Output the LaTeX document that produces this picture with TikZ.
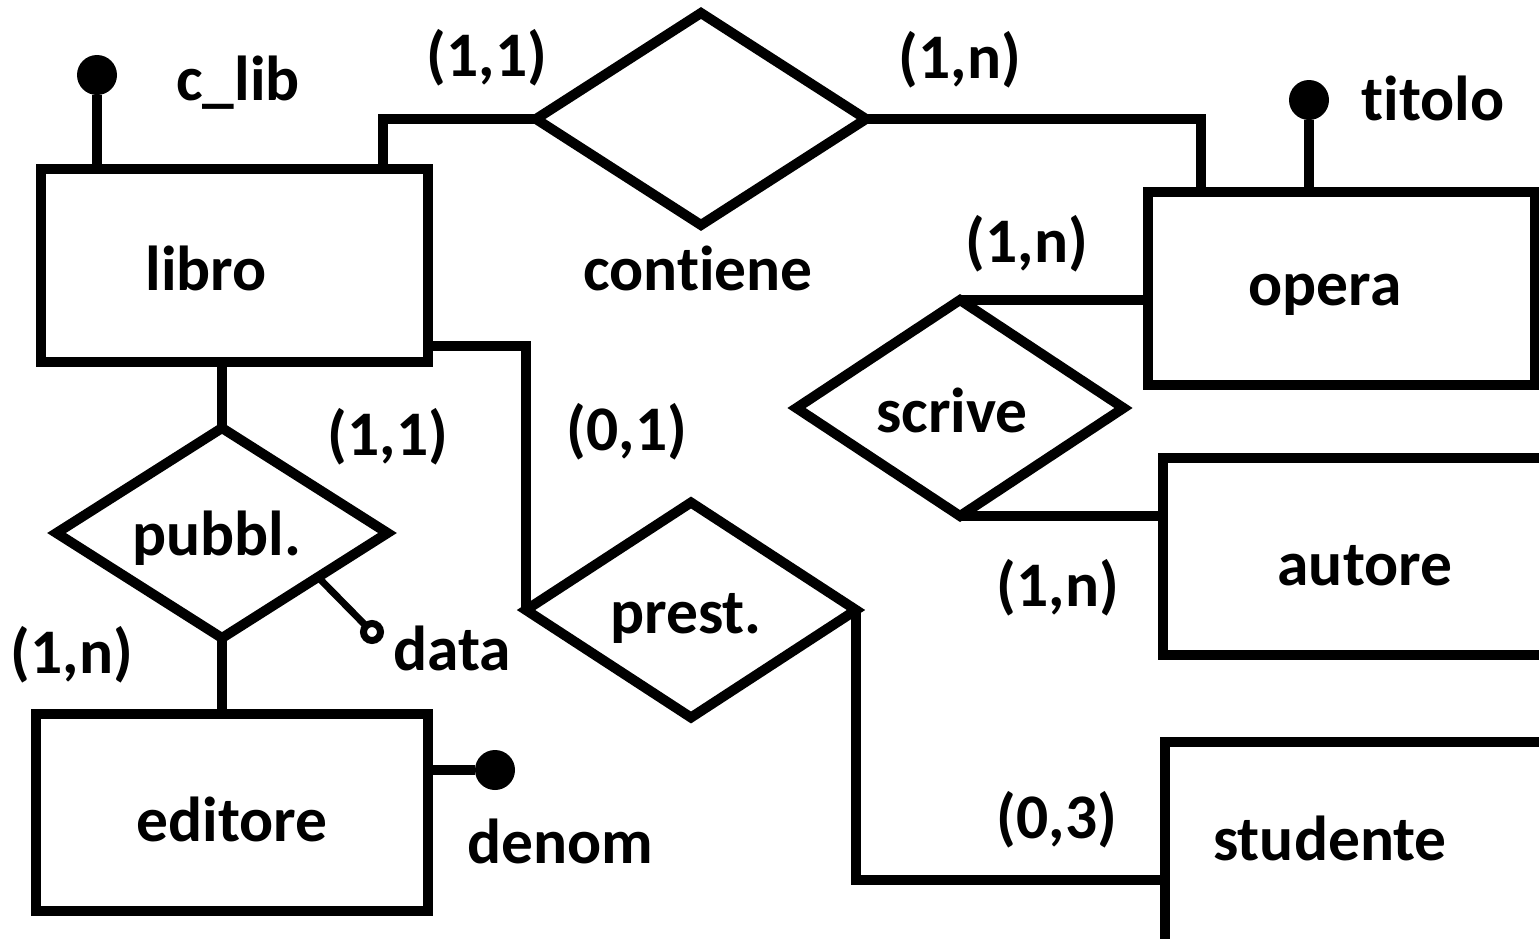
\documentclass[tikz,border=0pt]{standalone}
\usepackage{fontspec}
\setmainfont{Carlito}[Ligatures=NoCommon]
\usetikzlibrary{shapes.geometric,calc}

\begin{document}
\begin{tikzpicture}[x=1pt,y=-1pt]
        \tikzset{every node/.style={font=\fontsize{63.5}{70}\selectfont\bfseries,outer sep=0pt},
            entity/.style={draw,rectangle,line width=10pt,inner sep=0pt},
            relation/.style={draw,diamond,line width=10pt,inner sep=0pt},
            keyattr/.style={fill,circle,inner sep=0pt,minimum size=40pt},
            attr/.style={draw,circle,line width=7pt,inner sep=0pt,minimum size=17pt,fill=white},
            lbl/.style={anchor=base},
            link/.style={line width=10pt}}
        \clip (0,0) rectangle (1539,938);
        % entities
        \node[entity,minimum width=387pt,minimum height=193pt] (libro) at (234.5,265.5) {};
        \node[entity,minimum width=392pt,minimum height=197pt] (editore) at (232,812.5) {};
        \node[entity,minimum width=387pt,minimum height=193pt] (opera) at (1341.5,288.5) {};
        \node[entity,minimum width=417pt,minimum height=197pt] (autore) at (1371.5,556.5) {};
        \node[entity,minimum width=415pt,minimum height=238pt] (studente) at (1372.5,861) {};
        \node[lbl] (libro-t) at (206,290) {libro};
        \node[lbl] (editore-t) at (232,841) {editore};
        \node[lbl] (opera-t) at (1325,305) {opera};
        \node[lbl] (autore-t) at (1365,585) {autore};
        \node[lbl] (studente-t) at (1330,860) {studente};
        % relationships
        \node[relation,minimum width=330pt,minimum height=212pt] (contiene) at (701,119) {};
        \node[lbl] (contiene-t) at (698,290) {contiene};
        \node[relation,minimum width=327pt,minimum height=216pt] (scrive) at (960,408) {};
        \node[lbl] (scrive-t) at (952,432) {scrive};
        \node[relation,minimum width=330pt,minimum height=215pt] (prest) at (691,610) {};
        \node[lbl] (prest-t) at (686,633) {prest.};
        \node[relation,minimum width=331pt,minimum height=210pt] (pubbl) at (222,533) {};
        \node[lbl] (pubbl-t) at (217,555) {pubbl.};
        % attributes
        \node[keyattr] (clib) at (97,75) {};
        \node[lbl] (clib-t) at (238,100) {c\_lib};
        \node[keyattr] (titolo) at (1309,100) {};
        \node[lbl] (titolo-t) at (1433,120) {titolo};
        \node[keyattr] (denom) at (495,770) {};
        \node[lbl] (denom-t) at (560,863) {denom};
        \node[lbl] (data-t) at (452,670) {data};
        \draw[link] (libro.north -| clib) -- (clib);
        \draw[link] (opera.north -| titolo) -- (titolo);
        \draw[link] (editore.east |- denom) -- (denom);
        \draw[line width=7pt] ($(pubbl.east)!0.42!(pubbl.south)$) -- (372,632) node[attr] (data) {};
        % links
        \draw[link] (libro.north -| 383,0) |- (contiene.west);
        \draw[link] (contiene.east) -| (opera.north -| 1201,0);
        \draw[link] (scrive.north) -- (scrive.north -| opera.west);
        \draw[link] (scrive.south) -- (scrive.south -| autore.west);
        \draw[link] (libro.east |- 0,346) -| (prest.west);
        \draw[link] (prest.east) |- (studente.west |- 0,880);
        \draw[link] (libro.south -| pubbl.north) -- (pubbl.north);
        \draw[link] (pubbl.south) -- (pubbl.south |- editore.north);
        % cardinalities
        \node[lbl] (c1) at (487,76) {(1,1)};
        \node[lbl] (c2) at (960,78) {(1,n)};
        \node[lbl] (c3) at (1027,262) {(1,n)};
        \node[lbl] (c4) at (1058,606) {(1,n)};
        \node[lbl] (c5) at (388,455) {(1,1)};
        \node[lbl] (c6) at (627,450) {(0,1)};
        \node[lbl] (c7) at (72,673) {(1,n)};
        \node[lbl] (c8) at (1057,838) {(0,3)};
\end{tikzpicture}
\end{document}
